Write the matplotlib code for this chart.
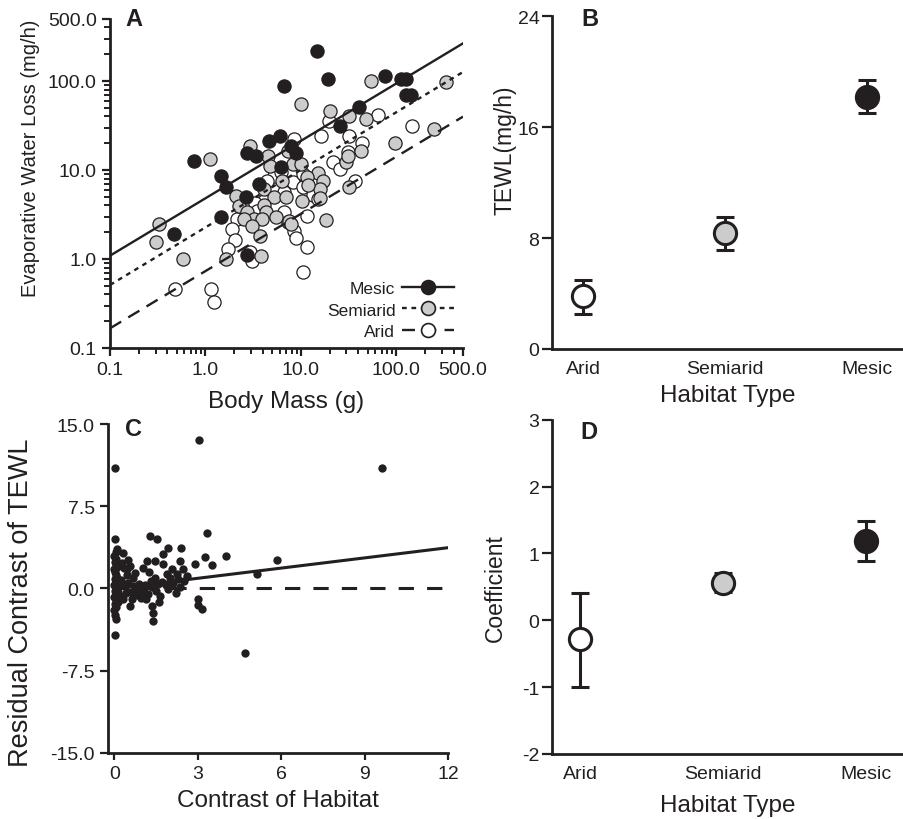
import numpy as np
import matplotlib
matplotlib.use('Agg')
import matplotlib.pyplot as plt
from matplotlib.ticker import FixedLocator, FixedFormatter, LogLocator, NullFormatter
from matplotlib.lines import Line2D

plt.rcParams['font.family'] = ['Liberation Sans', 'DejaVu Sans']
plt.rcParams['axes.unicode_minus'] = False

INK = '#231f20'
GRAY = '#cccccc'

# ---------------- Panel A data (body mass g, EWL mg/h) ----------------
mesic_mass = [14.7, 6.7, 19.1, 76.6, 113, 127, 127, 144, 40.2, 25.9, 4.64, 6.06, 2.70,
              3.36, 7.85, 8.85, 6.15, 0.766, 1.44, 1.63, 3.64, 2.64, 1.44, 0.464, 2.75]
mesic_ewl = [215, 87, 105, 113, 105, 105, 69.5, 69.5, 50.6, 30.9, 21.3, 23.9, 15.5,
             14.2, 18.7, 15.5, 10.7, 12.5, 8.6, 6.4, 6.95, 4.93, 2.94, 1.91, 1.11]

semiarid_mass = [53.7, 330, 10, 20.4, 32.3, 48.3, 249, 97.5, 2.93, 4.53, 1.11, 7.25, 8.17,
                 10, 4.75, 15.0, 16.9, 11.7, 6.4, 16.0, 11.9, 4.11, 5.23, 6.95, 10.2, 16.0,
                 2.07, 2.24, 2.75, 4.11, 4.28, 3.23, 2.54, 3.94, 5.46, 7.54, 3.05, 18.3,
                 7.85, 3.73, 0.323, 0.305, 0.582, 1.63, 3.79, 32.3, 29.8, 42.8, 31.5]
semiarid_ewl = [101, 96.5, 55, 46.3, 40.7, 37.4, 28.9, 20.1, 18.5, 14.5, 13.3, 16.5, 11.7,
                11.7, 11.2, 9.25, 7.6, 8.3, 7.6, 6.1, 6.7, 6.1, 4.93, 4.93, 4.52, 4.8,
                5.14, 3.97, 3.34, 4.04, 3.34, 2.81, 2.81, 2.78, 2.94, 2.69, 2.33, 2.77,
                2.47, 1.79, 2.47, 1.54, 1.0, 1.0, 1.07, 6.4, 12.2, 16.5, 14.5]

arid_mass = [64.1, 19.9, 146, 16.3, 32.3, 8.5, 43.5, 31.5, 21.5, 25.9, 5.23, 8.17, 10.4,
             13.3, 4.11, 3.28, 2.75, 2.15, 6.68, 7.24, 11.7, 8.5, 8.85, 11.6, 1.91, 2.02,
             1.72, 3.10, 2.93, 10.4, 1.13, 1.22, 0.483, 37.3, 15.0, 6.68, 10.4, 3.5, 6.15, 4.46]
arid_ewl = [41.5, 35.8, 30.9, 23.9, 24.3, 22.3, 20.1, 16.1, 12.4, 10.3, 8.6, 7.4, 6.4,
            5.24, 4.52, 4.25, 2.81, 2.81, 3.40, 2.58, 3.01, 2.08, 1.71, 1.35, 2.17, 1.65,
            1.29, 0.958, 1.19, 0.72, 0.46, 0.33, 0.46, 7.6, 4.72, 5.6, 9.0, 3.49, 9.4, 7.6]

# log10(EWL) = intercept + slope * log10(mass)
fit_intercept = {'Mesic': 0.682, 'Semiarid': 0.355, 'Arid': -0.136}
fit_slope = {'Mesic': 0.645, 'Semiarid': 0.647, 'Arid': 0.643}

a_ticks = [0.1, 1, 10, 100, 500]
a_ticklabels = ['0.1', '1.0', '10.0', '100.0', '500.0']

# ---------------- Panels B & D data ----------------
habitats = ['Arid', 'Semiarid', 'Mesic']
tewl_mean = [3.8, 8.36, 18.2]
tewl_low = [2.5, 7.1, 17.0]
tewl_high = [5.0, 9.55, 19.4]

coef_mean = [-0.28, 0.56, 1.18]
coef_low = [-1.0, 0.42, 0.89]
coef_high = [0.41, 0.70, 1.48]

# ---------------- Panel C data ----------------
contrast_x = [0.02, 0.03, 0.05, 0.00, 0.04, 0.02, 0.06, 0.00, 0.03, 0.05, 0.01, 0.04, 0.00,
              0.06, 0.02, 0.04, 0.00, 0.05, 0.02, 0.04, 0.00, 0.03, 0.05, 0.02, 0.10, 0.12,
              0.15, 0.10, 0.12, 0.08,
              0.30, 0.56, 0.45, 0.68, 0.56, 0.25, 0.35, 0.40, 0.50, 0.60, 0.70, 0.80, 0.90,
              0.30, 0.45, 0.85, 0.95, 0.75, 0.20, 0.65, 1.00, 0.35, 0.50, 0.28,
              1.28, 1.55, 1.94, 2.40, 1.76, 1.16, 1.46, 2.36, 1.04, 1.76, 2.06, 2.48, 2.24,
              2.60, 1.58, 1.34, 1.40, 1.40, 1.63, 1.94, 2.36, 1.10, 1.20, 1.30, 1.50, 1.70,
              1.85, 2.10, 2.20, 1.15, 1.45, 1.25, 2.50, 2.00, 1.05, 1.60, 2.30, 1.90, 1.35,
              2.90, 3.26, 3.50, 3.32, 4.02, 5.12, 5.84, 3.06, 9.64, 3.02, 3.02, 3.14, 4.70]
residual_y = [11.0, 4.5, 3.3, 3.0, 2.7, 2.4, 2.1, 1.8, 1.5, 1.2, 0.9, 0.6, 0.3,
              0.05, -0.2, -0.5, -0.8, -1.1, -1.4, -1.7, -2.0, -2.4, -2.8, -4.2, 1.0, -0.3,
              0.4, 2.0, -1.2, 3.6,
              3.26, 2.04, 1.74, 0.98, -1.62, 0.8, 0.2, -0.4, 0.5, -0.3, 0.2, -0.6, 0.4,
              -1.0, 1.2, -0.2, -0.9, 1.4, -0.7, -1.0, 0.0, 1.9, 2.6, 2.3,
              4.79, 4.48, 3.72, 3.72, 3.11, 2.5, 2.5, 2.5, 1.89, 2.2, 1.74, 1.74, 1.28,
              1.13, 0.45, -1.6, -2.2, -3.0, -0.7, -0.09, 0.15, 0.3, -0.5, 0.7, -0.2, 0.6,
              0.3, 0.5, -0.4, -1.0, 1.0, 1.5, 0.7, 1.0, -0.3, -1.2, 0.9, 1.3, 0.1,
              2.2, 2.9, 2.1, 5.1, 2.96, 1.28, 2.59, 13.57, 10.98, -0.95, -1.47, -1.9, -5.9]
c_slope = 0.31
c_ticks_x = [0, 3, 6, 9, 12]
c_ticks_y = [-15.0, -7.5, 0.0, 7.5, 15.0]
c_ticklabels_y = ['-15.0', '-7.5', '0.0', '7.5', '15.0']

# ---------------- figure ----------------
fig = plt.figure(figsize=(9.04, 8.2), dpi=100)
axA = fig.add_axes([0.1217, 0.5744, 0.3905, 0.4015])
axB = fig.add_axes([0.6106, 0.5732, 0.388, 0.406])
axC = fig.add_axes([0.1195, 0.0805, 0.376, 0.4012])
axD = fig.add_axes([0.6106, 0.0793, 0.388, 0.4077])


def style(ax):
    for s in ['top', 'right']:
        ax.spines[s].set_visible(False)
    for s in ['left', 'bottom']:
        ax.spines[s].set_linewidth(2.0)
        ax.spines[s].set_color(INK)
    ax.tick_params(which='both', direction='out', colors=INK, labelcolor=INK,
                   labelsize=14, width=1.6)


for ax in (axA, axB, axC, axD):
    style(ax)

# ---- Panel A ----
axA.set_xscale('log')
axA.set_yscale('log')
axA.set_xlim(0.1, 500)
axA.set_ylim(0.1, 500)
for ax_ in (axA.xaxis, axA.yaxis):
    ax_.set_major_locator(FixedLocator(a_ticks))
    ax_.set_major_formatter(FixedFormatter(a_ticklabels))
    ax_.set_minor_locator(LogLocator(base=10, subs=np.arange(2, 10), numticks=20))
    ax_.set_minor_formatter(NullFormatter())
axA.tick_params(which='major', length=6)
axA.tick_params(which='minor', length=4, width=1.4)

mk = dict(ls='none', marker='o', ms=9.5, mec=INK, mew=0.9, zorder=3)
axA.plot(arid_mass, arid_ewl, mfc='white', **mk)
axA.plot(semiarid_mass, semiarid_ewl, mfc=GRAY, **mk)
axA.plot(mesic_mass, mesic_ewl, mfc=INK, **mk)

line_styles = {'Mesic': '-', 'Semiarid': (0, (2, 2)), 'Arid': (0, (5.5, 3.5))}
fills = {'Mesic': INK, 'Semiarid': GRAY, 'Arid': 'white'}
xx = np.logspace(np.log10(0.1), np.log10(500), 50)
handles = []
for h in ['Mesic', 'Semiarid', 'Arid']:
    yy = 10 ** (fit_intercept[h] + fit_slope[h] * np.log10(xx))
    axA.plot(xx, yy, color=INK, lw=1.7, ls=line_styles[h], zorder=4)
    handles.append(Line2D([], [], color=INK, lw=1.7, ls=line_styles[h], marker='o',
                          ms=10, mfc=fills[h], mec=INK, mew=1.2))
leg = axA.legend(handles, ['Mesic', 'Semiarid', 'Arid'], loc='lower right',
                 bbox_to_anchor=(1.0, 0.0), frameon=False, markerfirst=False,
                 fontsize=12.5, handlelength=3.0, handletextpad=0.4, labelspacing=0.38,
                 borderpad=0.2, borderaxespad=0.3)
for t in leg.get_texts():
    t.set_color(INK)

axA.set_xlabel('Body Mass (g)', fontsize=17.5, color=INK)
axA.set_ylabel('Evaporative Water Loss (mg/h)', fontsize=14.5, color=INK)
axA.xaxis.set_label_coords(0.5, -0.127)
axA.yaxis.set_label_coords(-0.198, 0.58)


# ---- Panels B & D ----
def cat_panel(ax, means, lows, highs, ylim, yticks, ylabel, xlim):
    x = np.arange(1, len(habitats) + 1)
    for i, h in enumerate(habitats):
        err = [[means[i] - lows[i]], [highs[i] - means[i]]]
        ax.errorbar([x[i]], [means[i]], yerr=err, fmt='none', ecolor=INK, elinewidth=2.2,
                    capsize=6.5, capthick=2.2, zorder=2)
        ax.plot([x[i]], [means[i]], ls='none', marker='o', ms=16, mfc=fills[h], mec=INK,
                mew=2.2, zorder=3)
    ax.set_xlim(*xlim)
    ax.set_ylim(*ylim)
    ax.set_yticks(yticks)
    ax.set_yticklabels([str(v) for v in yticks])
    ax.set_xticks(x)
    ax.set_xticklabels(habitats)
    ax.tick_params(axis='x', length=0, pad=8)
    ax.tick_params(axis='y', length=7, pad=2)
    ax.set_xlabel('Habitat Type', fontsize=17.5, color=INK)
    ax.set_ylabel(ylabel, fontsize=16.5, color=INK)


cat_panel(axB, tewl_mean, tewl_low, tewl_high, (0, 24), [0, 8, 16, 24], 'TEWL(mg/h)', (0.78, 3.25))
axB.xaxis.set_label_coords(0.5, -0.105)
axB.yaxis.set_label_coords(-0.1, 0.6)

cat_panel(axD, coef_mean, coef_low, coef_high, (-2, 3), [-2, -1, 0, 1, 2, 3], 'Coefficient', (0.80, 3.26))
axD.xaxis.set_label_coords(0.5, -0.12)
axD.yaxis.set_label_coords(-0.128, 0.5)

# ---- Panel C ----
axC.plot(contrast_x, residual_y, ls='none', marker='o', ms=6, mfc=INK, mec=INK, mew=0, zorder=3)
cx = np.array([0, 12])
axC.plot(cx, c_slope * cx, color=INK, lw=2.2, zorder=4)
axC.plot(cx, 0 * cx, color=INK, lw=2.2, ls=(0, (5, 4.3)), zorder=2)
axC.set_xlim(-0.23, 12.0)
axC.set_ylim(-15, 15)
axC.set_xticks(c_ticks_x)
axC.set_xticklabels([str(v) for v in c_ticks_x])
axC.set_yticks(c_ticks_y)
axC.set_yticklabels(c_ticklabels_y)
axC.tick_params(axis='x', length=5)
axC.tick_params(axis='y', length=6)
axC.set_xlabel('Contrast of Habitat', fontsize=17.5, color=INK)
axC.set_ylabel('Residual Contrast of TEWL', fontsize=19.5, color=INK)
axC.xaxis.set_label_coords(0.5, -0.11)
axC.yaxis.set_label_coords(-0.218, 0.46)

# ---- panel letters ----
for lab, px, py in [('A', 125, 8), ('B', 581, 8), ('C', 125, 418), ('D', 580, 421)]:
    fig.text(px / 904, 1 - py / 820, lab, fontsize=17, fontweight='bold', color=INK,
             ha='left', va='top')

fig.savefig('out.png', dpi=100)
